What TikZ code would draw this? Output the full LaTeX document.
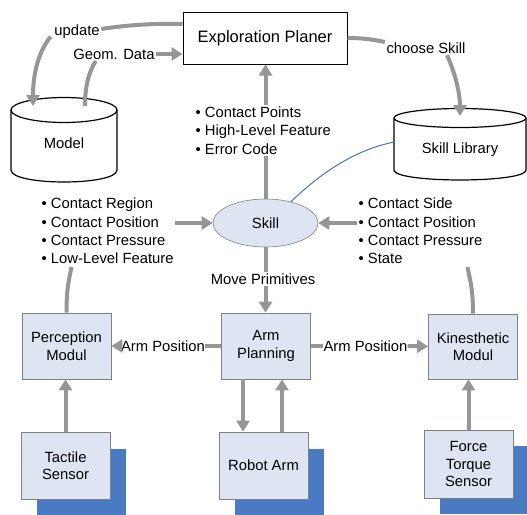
\documentclass[tikz,border=0pt]{standalone}
\usepackage{fontspec}
\setmainfont{Liberation Sans}
\usetikzlibrary{arrows.meta,calc,shapes.geometric}
\definecolor{flowgray}{RGB}{150,150,150}
\definecolor{boxfill}{RGB}{221,229,243}
\definecolor{boxline}{RGB}{128,128,128}
\definecolor{shadowblue}{RGB}{74,122,193}
\definecolor{linkblue}{RGB}{68,114,196}

\begin{document}
\begin{tikzpicture}[x=1pt,y=-1pt,
  every node/.style={font=\fontsize{14.8}{17.5}\selectfont, inner sep=1.5pt},
  module/.style={draw=boxline, fill=boxfill, line width=0.8pt, minimum width=89pt, minimum height=66pt, align=center},
  shadowbox/.style={fill=shadowblue, minimum width=89pt, minimum height=66pt},
  cyl/.style={draw=black, line width=1.2pt, fill=white},
  flow/.style={draw=flowgray, line width=4pt},
  flowarrow/.style={flow, -{Triangle[length=11pt,width=13pt]}},
  itemlist/.style={align=left, font=\fontsize{14.8}{18.3}\selectfont},
]
\useasboundingbox (0,0) rectangle (527,514);

% --- planner on top
\node[draw, line width=1pt, minimum width=164pt, minimum height=52pt,
      font=\fontsize{16.5}{19}\selectfont] (planer) at (265,38) {Exploration Planer};

% --- databases
\draw[cyl] (11,110) -- (11,170) .. controls (11,186) and (117,186) .. (117,170) -- (117,110);
\draw[cyl] (64,110) ellipse [x radius=53, y radius=12.5];
\node (model) at (64,143) {Model};
\coordinate (mdltopl) at (33,106);
\coordinate (mdltopr) at (85,106);

\draw[cyl] (394,118) -- (394,170) .. controls (394,183.3) and (526,183.3) .. (526,170) -- (526,118);
\draw[cyl] (460,118) ellipse [x radius=66, y radius=9.5];
\node (lib) at (460,150) {Skill Library};
\coordinate (libtop) at (460,116);
\coordinate (libleft) at (394,142);

% --- skill
\node[ellipse, draw=boxline, fill=boxfill, line width=0.6pt, minimum width=105pt,
      minimum height=48pt, inner sep=0pt] (skill) at (265.5,223) {Skill};
\draw[linkblue, line width=1pt] (skill.40) .. controls (322,172) and (355,150) .. (libleft);

% --- item lists
\node[itemlist, anchor=west] (toplist) at (194,130.5)
  {\textbullet\ Contact Points\\ \textbullet\ High-Level Feature\\ \textbullet\ Error Code};
\node[itemlist, anchor=west] (leftlist) at (40,231)
  {\textbullet\ Contact Region\\ \textbullet\ Contact Position\\ \textbullet\ Contact Pressure\\ \textbullet\ Low-Level Feature};
\node[itemlist, anchor=west] (rightlist) at (357,231)
  {\textbullet\ Contact Side\\ \textbullet\ Contact Position\\ \textbullet\ Contact Pressure\\ \textbullet\ State};
\coordinate (lfoot) at (71.5,267);
\coordinate (rfoot) at (467.5,267);

% --- modules
\node[shadowbox] (tshadow) at (81.5,481.5) {};
\node[shadowbox] (rshadow) at (279.5,481.5) {};
\node[shadowbox, minimum height=68pt] (fshadow) at (484.5,480) {};

\node[module] (perc) at (66.5,346) {Perception\\Modul};
\node[module] (arm) at (266,346) {Arm\\Planning};
\node[module, minimum height=65pt] (kin) at (473,346.5) {Kinesthetic\\Modul};
\node[module, minimum height=67pt] (tactile) at (65.5,465.5) {Tactile\\Sensor};
\node[module, minimum height=67pt] (robot) at (263.5,465.5) {Robot Arm};
\node[module, minimum height=68pt] (force) at (468.5,464) {Force\\Torque\\Sensor};

% --- labels on connectors
\node (upd) at (77,32) {update};
\node (geo) at (114,54) {Geom. Data};
\node (chs) at (426,48) {choose Skill};
\node (mp) at (263,279) {Move Primitives};
\node[inner sep=0pt] (apl) at (163,346) {Arm Position};
\node[inner sep=0pt] (apr) at (365.5,346) {Arm Position};

% --- connectors
\draw[flow] ($(planer.west)+(0,-14)$) .. controls (150,23) and (120,26) .. ($(upd.east)+(0,-3)$);
\draw[flowarrow] ($(upd.south west)+(-2,-4)$) .. controls (38,52) and (33,75) .. (mdltopl);
\draw[flow] (mdltopr) .. controls (85,85) and (89,72) .. ($(geo.south west)+(24,0)$);
\draw[flowarrow] (geo.east) -- (geo.east -| planer.west);
\draw[flow] (planer.east) .. controls (365,38) and (375,40) .. ($(chs.west)+(0,-6)$);
\draw[flowarrow] ($(chs.south)+(21,0)$) .. controls (456,75) and (460,95) .. (libtop);

\draw[flow] (skill.north) -- (skill.north |- toplist.south);
\draw[flowarrow] (skill.north |- toplist.north) -- (skill.north |- planer.south);

\draw[flowarrow] (leftlist.east |- skill.west) -- (skill.west);
\draw[flowarrow] (rightlist.west |- skill.east) -- (skill.east);

\draw[flow] (perc.north) .. controls ($(perc.north)+(0,-25)$) and (69,280) .. (lfoot);
\draw[flow] (kin.north) .. controls ($(kin.north)+(0,-25)$) and (470,280) .. (rfoot);

\draw[flow] (skill.south) -- (skill.south |- mp.north);
\draw[flowarrow] (skill.south |- mp.south) -- (skill.south |- arm.north);

\draw[flow] (arm.west) -- (apl.east);
\draw[flowarrow] (apl.west) -- (perc.east);
\draw[flow] (arm.east) -- (apr.west);
\draw[flowarrow] (apr.east) -- (kin.west);

% arm planning <-> robot arm, two parallel links
\coordinate (cmddown) at (243,379);
\coordinate (stateup) at (282,432);
\draw[flowarrow] (tactile.north) -- (tactile.north |- perc.south);
\draw[flowarrow] (cmddown) -- (cmddown |- robot.north);
\draw[flowarrow] (stateup) -- (stateup |- arm.south);
\draw[flowarrow] (force.north) -- (force.north |- kin.south);
\end{tikzpicture}
\end{document}
